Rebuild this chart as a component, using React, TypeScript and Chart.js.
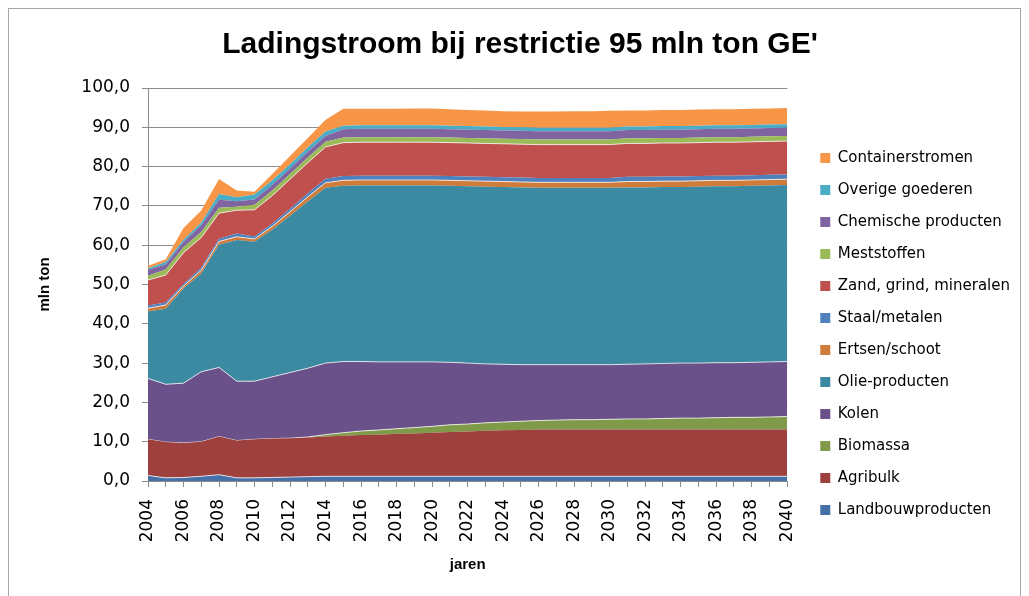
import React, { useEffect, useRef } from 'react';
import { Chart, registerables } from 'chart.js';

Chart.register(...registerables);

const years = [
  '2004', '2005', '2006', '2007', '2008', '2009', '2010', '2011', '2012', '2013', '2014',
  '2015', '2016', '2017', '2018', '2019', '2020', '2021', '2022', '2023', '2024', '2025',
  '2026', '2027', '2028', '2029', '2030', '2031', '2032', '2033', '2034', '2035',
  '2036', '2037', '2038', '2039', '2040',
];

const landbouwproducten = [
  1.4, 0.8, 0.9, 1.2, 1.6, 0.8, 0.8, 0.9, 1.0, 1.1, 1.2,
  1.2, 1.2, 1.2, 1.2, 1.2, 1.2, 1.2, 1.2, 1.2, 1.2, 1.2,
  1.2, 1.2, 1.2, 1.2, 1.2, 1.2, 1.2, 1.2, 1.2, 1.2,
  1.2, 1.2, 1.2, 1.2, 1.2,
];
const agribulk = [
  9.2, 9.1, 8.8, 8.8, 9.7, 9.5, 9.8, 9.9, 9.9, 10.0, 10.1,
  10.3, 10.5, 10.6, 10.8, 10.9, 11.1, 11.3, 11.4, 11.6, 11.7, 11.8,
  11.9, 11.9, 11.9, 11.9, 11.9, 11.9, 11.9, 11.9, 11.9, 11.9,
  11.9, 11.9, 11.9, 11.9, 11.9,
];
const biomassa = [
  0, 0, 0, 0, 0, 0, 0, 0, 0, 0.1, 0.5,
  0.8, 1.0, 1.2, 1.3, 1.5, 1.6, 1.8, 1.9, 2.0, 2.1, 2.2,
  2.3, 2.4, 2.5, 2.5, 2.6, 2.7, 2.7, 2.8, 2.9, 2.9,
  3.0, 3.1, 3.1, 3.2, 3.3,
];
const kolen = [
  15.5, 14.7, 15.2, 17.8, 17.6, 15.1, 14.8, 15.7, 16.7, 17.5, 18.2,
  18.1, 17.7, 17.3, 17.0, 16.7, 16.4, 15.9, 15.5, 15.0, 14.7, 14.4,
  14.2, 14.1, 14.0, 14.0, 13.9, 13.9, 14.0, 14.0, 14.0, 14.0,
  14.0, 13.9, 14.0, 14.0, 14.0,
];
const olieProducten = [
  17.0, 19.2, 24.1, 25.0, 31.2, 35.9, 35.5, 37.4, 39.9, 42.4, 44.6,
  44.7, 44.8, 44.9, 44.9, 44.9, 44.9, 44.9, 45.0, 45.1, 45.1, 45.1,
  45.0, 45.0, 45.0, 45.0, 45.0, 45.0, 44.9, 44.9, 44.8, 44.9,
  44.9, 44.9, 44.9, 44.9, 44.9,
];
const ertsenSchoot = [
  0.85, 1.0, 0.6, 0.85, 0.85, 0.85, 0.7, 0.9, 1.0, 1.2, 1.3,
  1.4, 1.4, 1.4, 1.4, 1.4, 1.4, 1.4, 1.4, 1.4, 1.4, 1.4,
  1.4, 1.4, 1.4, 1.4, 1.4, 1.5, 1.5, 1.5, 1.5, 1.5,
  1.5, 1.5, 1.5, 1.5, 1.5,
];
const staalMetalen = [
  0.7, 0.6, 0.5, 0.7, 0.7, 0.85, 0.6, 0.7, 0.8, 0.9, 1.0,
  1.1, 1.1, 1.1, 1.1, 1.1, 1.1, 1.1, 1.1, 1.1, 1.1, 1.1,
  1.1, 1.1, 1.1, 1.1, 1.1, 1.2, 1.2, 1.2, 1.2, 1.2,
  1.2, 1.2, 1.2, 1.2, 1.2,
];
const zandGrindMineralen = [
  6.5, 7.0, 8.0, 7.6, 6.5, 5.9, 6.8, 7.1, 7.5, 7.8, 8.1,
  8.5, 8.5, 8.5, 8.5, 8.5, 8.5, 8.5, 8.5, 8.5, 8.5, 8.5,
  8.5, 8.5, 8.5, 8.5, 8.5, 8.5, 8.5, 8.5, 8.5, 8.5,
  8.5, 8.5, 8.5, 8.5, 8.5,
];
const meststoffen = [
  1.1, 1.4, 1.4, 1.4, 1.4, 0.9, 1.3, 1.3, 1.3, 1.3, 1.3,
  1.3, 1.3, 1.3, 1.3, 1.3, 1.3, 1.3, 1.3, 1.3, 1.3, 1.3,
  1.3, 1.3, 1.3, 1.3, 1.3, 1.3, 1.3, 1.3, 1.3, 1.3,
  1.3, 1.3, 1.3, 1.3, 1.3,
];
const chemischeProducten = [
  1.5, 1.3, 1.3, 1.7, 2.0, 1.4, 1.3, 1.4, 1.4, 1.5, 1.5,
  2.1, 2.1, 2.1, 2.1, 2.1, 2.1, 2.1, 2.1, 2.1, 2.1, 2.1,
  2.1, 2.1, 2.1, 2.1, 2.1, 2.1, 2.1, 2.1, 2.1, 2.1,
  2.1, 2.1, 2.1, 2.1, 2.1,
];
const overigeGoederen = [
  0.4, 0.6, 0.6, 0.7, 1.5, 1.0, 1.3, 1.2, 1.1, 1.1, 1.1,
  0.9, 0.9, 0.9, 0.9, 0.9, 0.9, 0.9, 0.9, 0.9, 0.9, 0.9,
  0.9, 0.9, 0.9, 0.9, 0.9, 0.9, 0.9, 0.9, 0.9, 0.9,
  0.9, 0.9, 0.9, 0.9, 0.9,
];
const containerstromen = [
  0.6, 0.7, 3.0, 3.1, 3.8, 1.7, 0.7, 1.6, 2.1, 2.4, 3.0,
  4.3, 4.2, 4.2, 4.2, 4.3, 4.3, 4.2, 4.1, 4.1, 4.0, 4.0,
  4.1, 4.1, 4.2, 4.2, 4.3, 4.1, 4.1, 4.1, 4.1, 4.1,
  4.1, 4.1, 4.1, 4.1, 4.1,
];

const seriesNames = [
  'Landbouwproducten', 'Agribulk', 'Biomassa', 'Kolen', 'Olie-producten', 'Ertsen/schoot',
  'Staal/metalen', 'Zand, grind, mineralen', 'Meststoffen', 'Chemische producten',
  'Overige goederen', 'Containerstromen',
];
const seriesValues = [
  landbouwproducten, agribulk, biomassa, kolen, olieProducten, ertsenSchoot,
  staalMetalen, zandGrindMineralen, meststoffen, chemischeProducten, overigeGoederen, containerstromen,
];
const seriesColors = [
  '#4570A8', '#9E413E', '#7F9A48', '#6A5189', '#3C8AA1', '#CF7B3A',
  '#4F81BD', '#C0504D', '#9BBB59', '#8064A2', '#4BACC6', '#F79646',
];
const seriesTopLine = [true, false, true, true, false, true, false, true, false, false, false, false];

const titleText = "Ladingstroom bij restrictie 95 mln ton GE'";
const yTitle = 'mln ton';
const xTitle = 'jaren';

export default function App() {
  const ref = useRef<HTMLCanvasElement>(null);

  useEffect(() => {
    if (!ref.current) return;
    const gridColor = '#8c8c8c';
    const chart = new Chart(ref.current, {
      type: 'line',
      data: {
        labels: years,
        datasets: seriesNames.map((name, i) => ({
          label: name,
          data: seriesValues[i],
          backgroundColor: seriesColors[i],
          borderColor: seriesTopLine[i] ? 'rgba(255,255,255,0.75)' : 'rgba(0,0,0,0)',
          borderWidth: seriesTopLine[i] ? 1 : 0,
          fill: i === 0 ? 'origin' : '-1',
          pointRadius: 0,
          pointHoverRadius: 0,
          tension: 0,
        })),
      },
      options: {
        responsive: false,
        animation: false,
        layout: { padding: { left: 11, right: 0, top: 0, bottom: 0 } },
        plugins: {
          title: {
            display: true,
            text: titleText,
            color: '#000',
            font: { family: 'Liberation Sans', size: 30, weight: 'bold', lineHeight: 1.2 },
            padding: { top: 18, bottom: 25 },
          },
          legend: {
            position: 'right',
            align: 'center',
            reverse: true,
            maxWidth: 260,
            title: {
              display: true,
              text: ' ',
              font: { size: 10, lineHeight: 1.2 },
              padding: { top: 50, bottom: 0 },
            },
            labels: {
              boxWidth: 10,
              boxHeight: 10,
              padding: 17,
              color: '#000',
              font: { family: 'DejaVu Sans', size: 15 },
              generateLabels: (c: any) =>
                Chart.defaults.plugins.legend.labels
                  .generateLabels(c)
                  .map((l: any) => ({ ...l, strokeStyle: l.fillStyle, lineWidth: 0 })),
            },
          },
          tooltip: { enabled: false },
        },
        scales: {
          x: {
            type: 'category',
            grid: { display: true, drawOnChartArea: false, drawTicks: true, tickLength: 6, color: gridColor },
            border: { display: true, color: gridColor },
            ticks: {
              autoSkip: false,
              minRotation: 90,
              maxRotation: 90,
              padding: 12,
              color: '#000',
              font: { family: 'DejaVu Sans', size: 17 },
              callback: (_v: any, i: number) => (i % 2 === 0 ? years[i] : ''),
            },
            title: {
              display: true,
              text: xTitle,
              color: '#000',
              font: { family: 'Liberation Sans', size: 15, weight: 'bold', lineHeight: 1.2 },
              padding: { top: 0, bottom: 23 },
            },
            afterFit: (s: any) => {
              s.height = 116;
            },
          },
          y: {
            stacked: true,
            min: 0,
            max: 100,
            grid: { color: gridColor, tickLength: 6 },
            border: { display: true, color: gridColor },
            ticks: {
              stepSize: 10,
              padding: 12,
              color: '#000',
              font: { family: 'DejaVu Sans', size: 17 },
              callback: (v: any) => Number(v).toFixed(1).replace('.', ','),
            },
            title: {
              display: true,
              text: yTitle,
              color: '#000',
              font: { family: 'Liberation Sans', size: 15, weight: 'bold', lineHeight: 1.2 },
              padding: { top: 16, bottom: 0 },
            },
            afterFit: (s: any) => {
              s.width = 128;
            },
          },
          y2: {
            position: 'right',
            display: true,
            grid: { display: false },
            border: { display: false },
            ticks: { display: false },
            afterFit: (s: any) => {
              s.width = 16;
            },
          },
        },
      } as any,
    });
    return () => chart.destroy();
  }, []);

  return (
    <div style={{ width: 1011, height: 588, border: '1px solid #a6a6a6' }}>
      <canvas ref={ref} width={1011} height={588} style={{ display: 'block' }} />
    </div>
  );
}
